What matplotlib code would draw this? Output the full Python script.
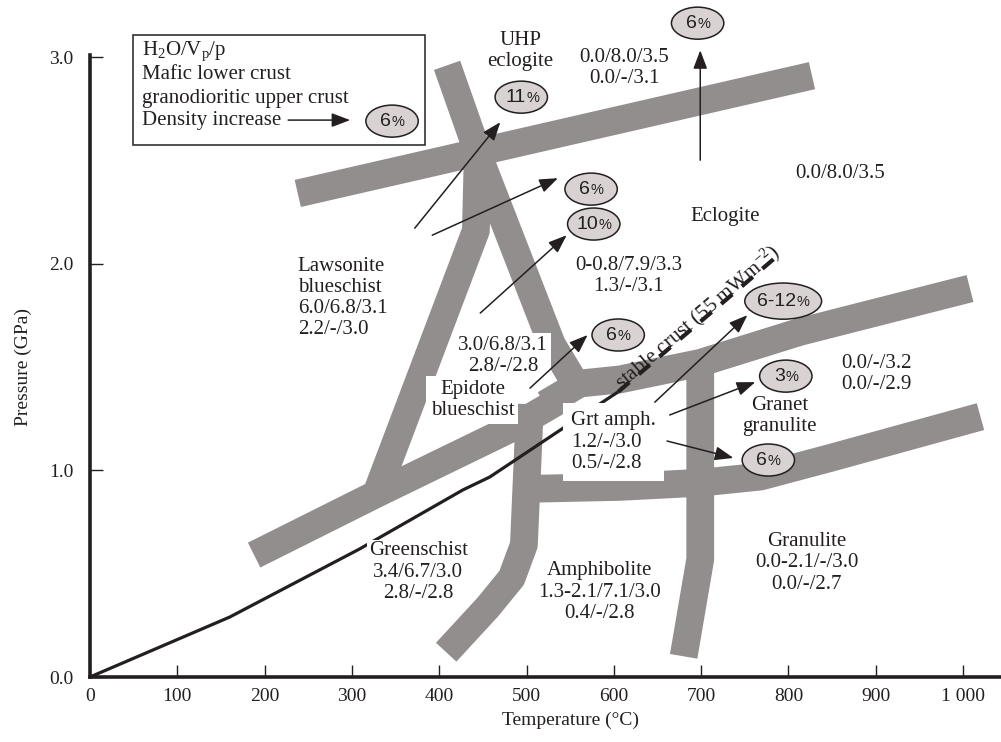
import numpy as np
import matplotlib
matplotlib.use('Agg')
import matplotlib.pyplot as plt
from matplotlib.patches import Ellipse, Rectangle

plt.rcParams['font.family'] = ['Liberation Serif', 'DejaVu Serif']
plt.rcParams['mathtext.fontset'] = 'custom'
plt.rcParams['mathtext.rm'] = 'Liberation Serif'
plt.rcParams['mathtext.it'] = 'Liberation Serif:italic'

INK = '#231f20'
BAND = '#938e8e'
BUBBLE = '#d9d2d2'

# facies boundaries as centre lines (T in C, P in GPa)
uhp_T = [238, 827]
uhp_P = [2.34, 2.91]

blueschist_T = [409, 449, 529, 556]
blueschist_P = [2.96, 2.48, 1.61, 1.42]

lawsonite_T = [444, 442, 330]
lawsonite_P = [2.50, 2.16, 0.91]

greenschist_T = [188, 330, 481, 538]
greenschist_P = [0.59, 0.89, 1.20, 1.34]

eclogite_T = [521, 561, 607, 699, 813, 1008]
eclogite_P = [1.32, 1.42, 1.44, 1.52, 1.67, 1.88]

amphibolite_T = [504, 497, 483, 456, 408]
amphibolite_P = [1.32, 0.64, 0.48, 0.34, 0.12]

granulite_T = [497, 607, 699, 768, 848, 1020]
granulite_P = [0.91, 0.92, 0.94, 0.97, 1.06, 1.26]

garnet_T = [699, 699, 680]
garnet_P = [1.53, 0.57, 0.10]

bands = [
    (uhp_T, uhp_P), (greenschist_T, greenschist_P), (eclogite_T, eclogite_P),
    (blueschist_T, blueschist_P), (lawsonite_T, lawsonite_P),
    (amphibolite_T, amphibolite_P), (granulite_T, granulite_P),
    (garnet_T, garnet_P),
]

# 55 mW/m2 geotherm
geo_T = [0, 160, 309, 427, 458, 544, 605]
geo_P = [0.0, 0.29, 0.62, 0.905, 0.968, 1.21, 1.38]
geo_ext_T = [605, 788]
geo_ext_P = [1.38, 2.04]

# density increase bubbles
bubble_T = [494, 696, 574, 577, 605, 794, 797, 777]
bubble_P = [2.806, 3.164, 2.361, 2.192, 1.655, 1.819, 1.456, 1.050]
bubble_num = ['11', '6', '6', '10', '6', '6-12', '3', '6']

# arrows from field labels to bubbles
arrow_from_T = [372, 392, 447, 699, 504, 647, 664, 661]
arrow_from_P = [2.172, 2.138, 1.761, 2.501, 1.398, 1.330, 1.268, 1.142]
arrow_to_T = [470, 536, 546, 699, 570, 753, 762, 737]
arrow_to_P = [2.685, 2.414, 2.138, 3.033, 1.655, 1.751, 1.427, 1.060]

x_ticks = [0, 100, 200, 300, 400, 500, 600, 700, 800, 900, 1000]
x_tick_labels = ['0', '100', '200', '300', '400', '500', '600', '700', '800', '900', '1 000']
y_ticks = [0, 1, 2, 3]
y_tick_labels = ['0.0', '1.0', '2.0', '3.0']

fig = plt.figure(figsize=(10.01, 7.42), dpi=100)
ax = fig.add_axes([90 / 1001, 65 / 742, 911 / 1001, 622 / 742])
ax.set_xlim(0, 1043.5)
ax.set_ylim(0, 3.01)

for T, P in bands:
    ax.plot(T, P, color=BAND, lw=20, solid_capstyle='butt',
            solid_joinstyle='round', zorder=1)

ax.plot(geo_T, geo_P, color=INK, lw=2.3, solid_capstyle='butt', zorder=2)
ax.plot(geo_ext_T, geo_ext_P, color=INK, lw=3.0, dashes=(3.5, 3), zorder=2)

p0 = ax.transData.transform((geo_ext_T[0], geo_ext_P[0]))
p1 = ax.transData.transform((geo_ext_T[1], geo_ext_P[1]))
ang = np.degrees(np.arctan2(p1[1] - p0[1], p1[0] - p0[0]))
ax.text(geo_ext_T[0] + 4, geo_ext_P[0] + 0.01, 'stable crust (55 mWm$^{-2}$)',
        rotation=ang, rotation_mode='anchor', ha='left', va='baseline',
        fontsize=15, color=INK, zorder=3)

white = dict(facecolor='white', edgecolor='none', pad=2)
labels = [
    ('UHP\neclogite', 493, 3.029, 'center', None),
    ('0.0/8.0/3.5\n0.0/-/3.1', 612, 2.946, 'center', None),
    ('0.0/8.0/3.5', 859, 2.438, 'center', None),
    ('Eclogite', 728, 2.230, 'center', None),
    ('0-0.8/7.9/3.3\n1.3/-/3.1', 617, 1.940, 'center', None),
    ('Lawsonite\nblueschist\n6.0/6.8/3.1\n2.2/-/3.0', 238, 1.834, 'left', None),
    ('3.0/6.8/3.1\n2.8/-/2.8', 473, 1.553, 'center', white),
    ('Epidote\nblueschist', 438, 1.340, 'center', dict(facecolor='white', edgecolor='none', pad=3)),
    ('Grt amph.\n1.2/-/3.0\n0.5/-/2.8', 551, 1.137, 'left', dict(facecolor='white', edgecolor='none', pad=6)),
    ('Granet\ngranulite', 790, 1.263, 'center', None),
    ('0.0/-/3.2\n0.0/-/2.9', 901, 1.466, 'center', None),
    ('Greenschist\n3.4/6.7/3.0\n2.8/-/2.8', 376, 0.508, 'center', dict(facecolor='white', edgecolor='none', pad=1)),
    ('Amphibolite\n1.3-2.1/7.1/3.0\n0.4/-/2.8', 584, 0.411, 'center', None),
    ('Granulite\n0.0-2.1/-/3.0\n0.0/-/2.7', 821, 0.552, 'center', None),
]
for txt, x, y, ha, box in labels:
    ax.text(x, y, txt, ha=ha, va='center', multialignment=ha, fontsize=15,
            linespacing=1.15, color=INK, bbox=box, zorder=3)

arrow_style = dict(arrowstyle='-|>,head_length=0.45,head_width=0.17',
                   mutation_scale=25, lw=1.1, color=INK, shrinkA=0, shrinkB=0)
for xf, yf, xt, yt in zip(arrow_from_T, arrow_from_P, arrow_to_T, arrow_to_P):
    ax.annotate('', xy=(xt, yt), xytext=(xf, yf), arrowprops=arrow_style,
                annotation_clip=False, zorder=4)


def bubble(x, y, num):
    w, h = (88, 0.175) if '-' in num else (60, 0.155)
    ax.add_patch(Ellipse((x, y), w, h, facecolor=BUBBLE, edgecolor=INK,
                         lw=1.1, zorder=5, clip_on=False))
    # split point so number and the smaller % sign sit centred together
    w_num = 14 * (0.556 * sum(c.isdigit() for c in num) + 0.333 * num.count('-'))
    dx = (w_num - 9.5) / 2
    ax.annotate(num, (x, y), xytext=(dx, 0), textcoords='offset points',
                ha='right', va='center', fontsize=14, family='Liberation Sans',
                color=INK, zorder=6, annotation_clip=False)
    ax.annotate('%', (x, y), xytext=(dx + 0.5, -0.5), textcoords='offset points',
                ha='left', va='center', fontsize=10.5, family='Liberation Sans',
                color=INK, zorder=6, annotation_clip=False)


for x, y, num in zip(bubble_T, bubble_P, bubble_num):
    bubble(x, y, num)

# key box
ax.add_patch(Rectangle((49.3, 2.574), 334.4, 0.532, fill=False, edgecolor=INK,
                       lw=1.1, clip_on=False, zorder=3))
key_lines = ['H$_2$O/V$_\\mathrm{p}$/p', 'Mafic lower crust',
             'granodioritic upper crust', 'Density increase']
key_P = [3.030, 2.917, 2.801, 2.695]
for txt, y in zip(key_lines, key_P):
    ax.text(59.6, y, txt, ha='left', va='center', fontsize=15, color=INK)
ax.annotate('', xy=(298, 2.695), xytext=(227, 2.695), arrowprops=arrow_style,
            annotation_clip=False)
bubble(346, 2.690, '6')

for side in ['top', 'right']:
    ax.spines[side].set_visible(False)
for side in ['left', 'bottom']:
    ax.spines[side].set_linewidth(2.6)
    ax.spines[side].set_color(INK)

ax.set_xticks(x_ticks)
ax.set_xticklabels(x_tick_labels)
ax.set_yticks(y_ticks)
ax.set_yticklabels(y_tick_labels)
ax.tick_params(direction='in', length=9, width=1, colors=INK, labelsize=14)
ax.tick_params(axis='x', pad=8)
ax.tick_params(axis='y', pad=12)

ax.set_xlabel('Temperature (\u00b0C)', fontsize=14, color=INK)
ax.set_ylabel('Pressure (GPa)', fontsize=14, color=INK)
ax.xaxis.set_label_coords(0.527, -0.056)
ax.yaxis.set_label_coords(-0.064, 0.498)

fig.savefig('out.png', dpi=100)
